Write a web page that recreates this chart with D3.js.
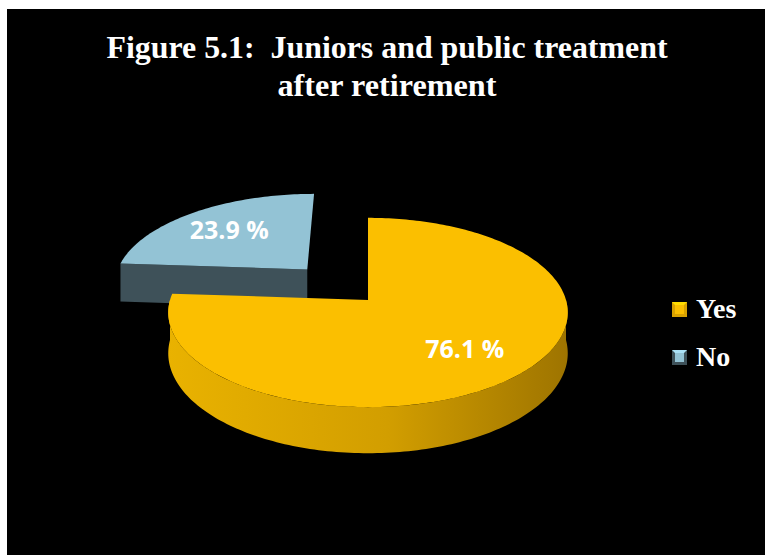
<html>
<head>
<script type="text/javascript" src="https://cdnjs.cloudflare.com/ajax/libs/d3/7.8.5/d3.min.js"></script>
<style type="text/css">
  body{ margin:0; background:#fff; }
  svg{ display:block; }
  .title{ font-family:"Liberation Serif","Times New Roman",serif; font-weight:bold; font-size:31px; fill:#fff; white-space:pre; }
  .legendText{ font-family:"Liberation Serif","Times New Roman",serif; font-weight:bold; font-size:28px; fill:#fff; }
  .sliceLabel{ font-family:"Open Sans",sans-serif; font-weight:bold; font-size:25px; fill:#fff; }
</style>
</head>
<body>
<div id="chart"></div>
<script type="text/javascript">
let categories = ["Yes", "No"];
let values = [76.1, 23.9];
let labels = ["76.1 %", "23.9 %"];
let colours = ["#FBBF00", "#93C3D5"];
let wallColours = ["#D9A200", "#3E5159"];
let explode = [0, 0.47];
let titleLines = ["Figure 5.1:  Juniors and public treatment", "after retirement"];
let titleWidths = [561, 219];

let W = 765, H = 555;
let svg = d3.select('#chart').append('svg').attr('width', W).attr('height', H);

svg.append('rect').attr('x', 7).attr('y', 9).attr('width', W - 7).attr('height', H - 9).attr('fill', '#000');

svg.selectAll('.title').data(titleLines).enter().append('text')
  .attr('class', 'title')
  .attr('x', 387)
  .attr('y', (d, i) => 58 + i * 38)
  .attr('text-anchor', 'middle')
  .attr('textLength', (d, i) => titleWidths[i])
  .attr('lengthAdjust', 'spacingAndGlyphs')
  .text(d => d);

// simple 3d projection of a tilted disc: u to the right, v toward viewer, w down the thickness
let cx = 368, cy = 300, R = 198, A = 93, T = 40, P = 0.132;
function proj(u, v, w){
  let s = 1 / (1 - P * v);
  return [cx + R * u * s, cy + (A * v + T * w) * s];
}
function pt(a, r, off, w){
  return proj(off[0] + r * Math.sin(a), off[1] - r * Math.cos(a), w);
}
function arcPts(a0, a1, off, w){
  let n = Math.max(2, Math.ceil(Math.abs(a1 - a0) / 0.02));
  return d3.range(n + 1).map(i => pt(a0 + (a1 - a0) * i / n, 1, off, w));
}
let line = d3.line();

let defs = svg.append('defs');
let grad = defs.append('linearGradient').attr('id', 'yesWall').attr('x1', '0%').attr('x2', '100%');
grad.append('stop').attr('offset', '0%').attr('stop-color', '#E9B200');
grad.append('stop').attr('offset', '55%').attr('stop-color', '#D29E00');
grad.append('stop').attr('offset', '100%').attr('stop-color', '#9E7400');

let pie = d3.pie().sort(null).value(d => d);
let arcs = pie(values).map((d, i) => {
  let mid = (d.startAngle + d.endAngle) / 2;
  return {a0: d.startAngle, a1: d.endAngle, mid: mid, i: i,
    off: [explode[i] * Math.sin(mid), -explode[i] * Math.cos(mid)]};
});

let pieG = svg.append('g');
// draw slices further back first
arcs.slice().sort((a, b) => a.off[1] - b.off[1]).forEach(s => {
  let g = pieG.append('g');
  let c0 = proj(s.off[0], s.off[1], 0), c1 = proj(s.off[0], s.off[1], 1);
  // radial walls
  [[s.a0, s.a0 - Math.PI / 2], [s.a1, s.a1 + Math.PI / 2]].forEach(e => {
    if(-Math.cos(e[1]) > 0.01){
      g.append('path')
        .attr('d', line([c0, pt(e[0], 1, s.off, 0), pt(e[0], 1, s.off, 1), c1]) + 'Z')
        .attr('fill', wallColours[s.i]);
    }
  });
  // outer wall
  let b0 = Math.max(s.a0, Math.PI / 2), b1 = Math.min(s.a1, 3 * Math.PI / 2);
  if(b1 > b0){
    let pts = arcPts(b0, b1, s.off, 0).concat(arcPts(b1, b0, s.off, 1));
    g.append('path').attr('d', line(pts) + 'Z')
      .attr('fill', s.i === 0 ? 'url(#yesWall)' : wallColours[s.i]);
  }
  // top face
  g.append('path')
    .attr('d', line([c0].concat(arcPts(s.a0, s.a1, s.off, 0))) + 'Z')
    .attr('fill', colours[s.i]);
});

pieG.selectAll('.sliceLabel').data(arcs).enter().append('text')
  .attr('class', 'sliceLabel')
  .attr('text-anchor', 'middle')
  .attr('dy', '0.36em')
  .attr('x', d => pt(d.mid, 0.67, d.off, 0)[0])
  .attr('y', d => pt(d.mid, 0.67, d.off, 0)[1])
  .text((d, i) => labels[i]);

// legend
let legend = svg.selectAll('.legendItem').data(categories).enter().append('g')
  .attr('class', 'legendItem')
  .attr('transform', (d, i) => 'translate(672,' + (302 + i * 48) + ')');
let sq = 15;
legend.append('rect').attr('width', sq).attr('height', sq).attr('fill', (d, i) => wallColours[i]);
legend.append('path')
  .attr('d', 'M0,0L' + sq + ',0L' + (sq / 2) + ',' + (sq / 2) + 'Z')
  .attr('fill', (d, i) => d3.color(colours[i]).brighter(0.4));
legend.append('rect').attr('x', 3).attr('y', 3).attr('width', sq - 6).attr('height', sq - 6)
  .attr('fill', (d, i) => colours[i]);
legend.append('text').attr('class', 'legendText')
  .attr('x', 24).attr('y', sq + 1)
  .text(d => d);
</script>
</body>
</html>
